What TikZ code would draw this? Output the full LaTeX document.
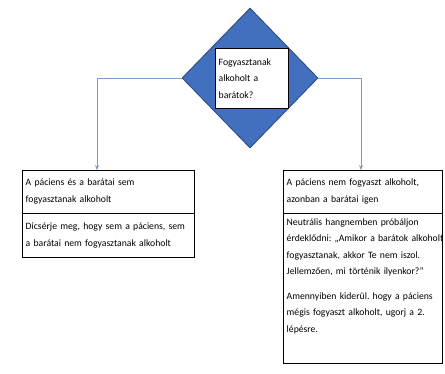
\documentclass[tikz,border=0pt]{standalone}
\usepackage{fontspec}
\setmainfont{Carlito}
\frenchspacing
\hyphenpenalty=10000
\usetikzlibrary{arrows.meta,calc,shapes.geometric}
\definecolor{dblue}{RGB}{66,112,190}
\definecolor{dedge}{RGB}{40,70,125}
\definecolor{lblue}{RGB}{120,158,206}
\tikzset{txt/.style={draw,anchor=north west,align=left,inner xsep=3.5pt,inner ysep=2pt,font=\fontsize{9.7}{16.5}\selectfont},
conn/.style={lblue,line width=.7pt,-{Stealth[length=5pt,width=4pt]}}}
\begin{document}
\begin{tikzpicture}[x=1pt,y=-1pt]
\useasboundingbox(0,0)rectangle(445,373);
\node[diamond,draw=dedge,fill=dblue,line width=.8pt,minimum width=136pt,minimum height=140pt,inner sep=0pt](dec)at(250,78){};
\node[txt,fill=white,text width=66pt,minimum height=60pt](q)at(215,48){Fogyasztanak\\alkoholt a\\barátok?};
\node[txt,text width=165pt,minimum height=43pt](lhead)at(22,170){A páciens és a barátai sem\\fogyasztanak alkoholt};
\node[txt,text width=165pt,minimum height=44pt](lbody)at(lhead.south west){Dicsérje meg, hogy sem a páciens, sem\\a barátai nem fogyasztanak alkoholt};
\draw[line width=1.5pt](lhead.south west)--(lhead.south east);
\node[txt,text width=152pt,minimum height=43pt](rhead)at(283,170){A páciens nem fogyaszt alkoholt,\\azonban a barátai igen};
\node[txt,draw=none,text width=152pt,inner ysep=5pt](rbody)at(rhead.south west){Neutrális hangnemben próbáljon\\\leavevmode\rlap{érdeklődni: „Amikor a barátok alkoholt}\\fogyasztanak, akkor Te nem iszol.\\Jellemzően, mi történik ilyenkor?”\\[8pt]Amennyiben kiderül. hogy a páciens\\mégis fogyaszt alkoholt, ugorj a 2.\\lépésre.};
\coordinate(rbot)at(0,363);
\draw(rhead.south west)rectangle(rhead.east|-rbot);
\coordinate(lt)at(97,78);\coordinate(rt)at(361,78);
\draw[conn](dec.west)--(lt)--(lt|-lhead.north);
\draw[conn](dec.east)--(rt)--(rt|-rhead.north);
\end{tikzpicture}
\end{document}
